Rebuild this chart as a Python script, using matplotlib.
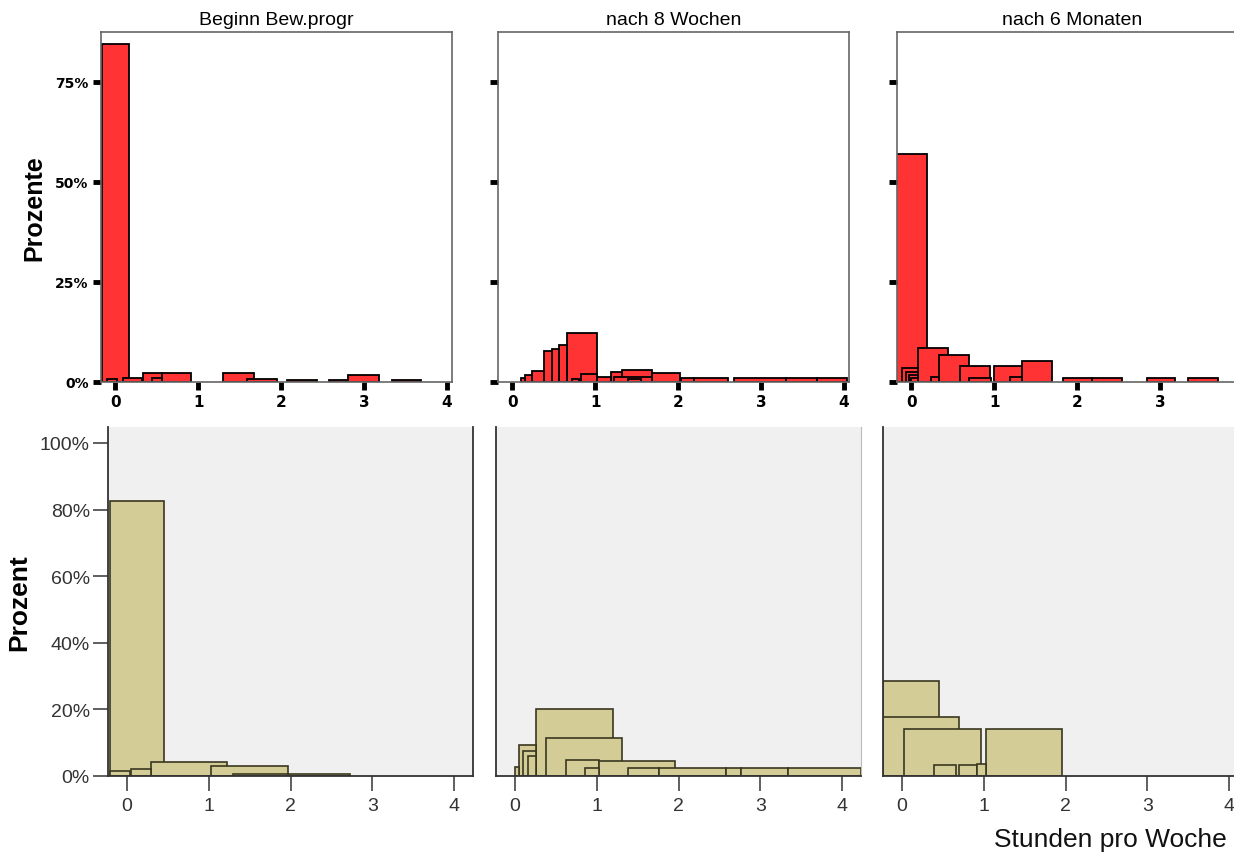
import numpy as np
import matplotlib
matplotlib.use("Agg")
import matplotlib.pyplot as plt

plt.rcParams['font.family'] = ['Liberation Sans', 'DejaVu Sans']

titles = ["Beginn Bew.progr", "nach 8 Wochen", "nach 6 Monaten"]
x_ticks = [0, 1, 2, 3, 4]

# obere Reihe: Balken (linke Kante, rechte Kante, Prozent)
top1_lo = [-0.16, -0.10, 0.10, 0.34, 0.56, 1.30, 2.81, 0.44, 1.59, 2.07, 2.58, 3.34]
top1_hi = [0.17, 0.02, 0.32, 0.56, 0.92, 1.67, 3.18, 0.56, 1.95, 2.43, 2.81, 3.69]
top1_pct = [84.5, 0.7, 1.0, 2.3, 2.3, 2.3, 1.7, 1.0, 0.7, 0.5, 0.5, 0.5]

top2_lo = [0.66, 0.57, 0.48, 0.38, 1.32, 1.68, 0.24, 1.19, 0.83, 0.16, 1.02, 1.23,
           0.11, 2.03, 2.19, 2.67, 3.30, 3.67, 0.72, 1.40]
top2_hi = [1.02, 0.66, 0.57, 0.48, 1.68, 2.02, 0.38, 1.32, 1.02, 0.24, 1.19, 1.68,
           0.16, 2.19, 2.60, 3.30, 3.67, 4.03, 0.81, 1.55]
top2_pct = [12.25, 9.3, 8.25, 7.7, 3.1, 2.3, 2.7, 2.5, 2.0, 1.8, 1.2, 1.2,
            1.0, 1.0, 1.0, 1.0, 1.0, 1.0, 0.7, 0.7]

top3_lo = [-0.18, 0.08, 0.34, 0.59, 1.00, 1.34, -0.11, -0.06, -0.02, 0.70, 0.24, 1.19,
           0.00, 1.83, 2.18, 2.84, 3.34]
top3_hi = [0.19, 0.45, 0.70, 0.95, 1.34, 1.70, 0.08, 0.08, 0.08, 0.96, 0.34, 1.34,
           0.08, 2.18, 2.54, 3.18, 3.70]
top3_pct = [57.0, 8.5, 6.75, 4.1, 4.1, 5.3, 3.5, 2.6, 1.75, 1.0, 1.2, 1.2,
            1.0, 1.0, 1.0, 1.0, 1.0]

# untere Reihe
bot1_lo = [-0.21, 0.29, 1.03, -0.21, 0.05, 1.30, 1.97]
bot1_hi = [0.45, 1.23, 1.97, 0.04, 0.29, 1.97, 2.73]
bot1_pct = [82.6, 4.2, 3.0, 1.6, 2.0, 0.6, 0.5]

bot2_lo = [0.26, 0.38, 0.05, 0.10, 0.16, 0.62, 1.03, 0.00, 0.86, 1.38, 1.76, 2.58, 2.76, 3.34]
bot2_hi = [1.20, 1.31, 0.26, 0.26, 0.26, 1.03, 1.96, 0.05, 1.03, 1.76, 2.58, 2.76, 3.34, 4.23]
bot2_pct = [20.1, 11.4, 9.3, 7.5, 6.0, 4.9, 4.6, 2.7, 2.4, 2.4, 2.4, 2.4, 2.4, 2.4]

bot3_lo = [-0.23, -0.23, 0.03, 1.03, 0.39, 0.70, 0.92]
bot3_hi = [0.45, 0.70, 0.97, 1.96, 0.66, 0.92, 1.03]
bot3_pct = [28.5, 17.7, 14.1, 14.1, 3.3, 3.3, 3.6]

top_data = [(top1_lo, top1_hi, top1_pct), (top2_lo, top2_hi, top2_pct), (top3_lo, top3_hi, top3_pct)]
bot_data = [(bot1_lo, bot1_hi, bot1_pct), (bot2_lo, bot2_hi, bot2_pct), (bot3_lo, bot3_hi, bot3_pct)]

W, H = 1234, 854
fig = plt.figure(figsize=(W / 100, H / 100), dpi=100)

def rect(x0, y0, x1, y1):
    return [x0 / W, 1 - y1 / H, (x1 - x0) / W, (y1 - y0) / H]

top_x = [101, 498, 897]
bot_x = [108, 496, 883]

# ---- obere Reihe ----
for i in range(3):
    ax = fig.add_axes(rect(top_x[i], 33, top_x[i] + 351, 383))
    lo, hi, pct = top_data[i]
    ax.bar(lo, pct, width=np.subtract(hi, lo), align='edge',
           color='#ff3333', edgecolor='black', linewidth=1.3)
    ax.set_xlim(-0.17, 4.06)
    ax.set_ylim(0, 87.5)
    for s in ax.spines.values():
        s.set_color('#666666')
        s.set_linewidth(1.2)
    ax.set_yticks([0, 25, 50, 75])
    # rechtes Panel ist am Bildrand abgeschnitten, dort nur 0-3
    ticks = x_ticks if i < 2 else x_ticks[:4]
    ax.set_xticks(ticks)
    ax.tick_params(axis='both', length=6, width=3.5, color='black', pad=3)
    if i == 0:
        ax.set_yticklabels(["0%", "25%", "50%", "75%"], fontsize=10,
                           fontweight='bold', family='DejaVu Sans')
        ax.set_ylabel("Prozente", fontsize=18, fontweight='bold', labelpad=6)
    else:
        ax.set_yticklabels([])
    ax.set_xticklabels([str(t) for t in ticks], fontsize=11, fontweight='bold',
                       family='DejaVu Sans')
    ax.set_title(titles[i], fontsize=14, pad=6)

# ---- untere Reihe ----
for i in range(3):
    ax = fig.add_axes(rect(bot_x[i], 428, bot_x[i] + 365, 777))
    ax.set_facecolor('#f0f0f0')
    lo, hi, pct = bot_data[i]
    ax.bar(lo, pct, width=np.subtract(hi, lo), align='edge',
           color='#d3cc96', edgecolor='#3a3720', linewidth=1.2)
    ax.set_xlim(-0.23, 4.23)
    ax.set_ylim(0, 104.8)
    ax.spines['top'].set_visible(False)
    ax.spines['left'].set_color('#333333')
    ax.spines['bottom'].set_color('#333333')
    ax.spines['left'].set_linewidth(1.3)
    ax.spines['bottom'].set_linewidth(1.3)
    if i == 0:
        ax.spines['right'].set_color('#333333')
        ax.spines['right'].set_linewidth(1.3)
    else:
        ax.spines['right'].set_color('#bbbbbb')
    ax.set_xticks(x_ticks)
    ax.set_xticklabels([str(t) for t in x_ticks], fontsize=14, color='#333333')
    ax.tick_params(axis='x', length=11, width=1.2, color='#444444', pad=4)
    if i == 0:
        ax.set_yticks([0, 20, 40, 60, 80, 100])
        ax.set_yticklabels(["0%", "20%", "40%", "60%", "80%", "100%"],
                           fontsize=14, color='#333333')
        ax.tick_params(axis='y', length=11, width=1.2, color='#444444', pad=2)
        ax.set_ylabel("Prozent", fontsize=19, fontweight='bold', labelpad=6)
    else:
        ax.set_yticks([])

fig.text(1227 / W, 1 - 840 / H, "Stunden pro Woche", fontsize=19,
         ha='right', va='center', color='#111111')

fig.savefig("out.png", dpi=100)
